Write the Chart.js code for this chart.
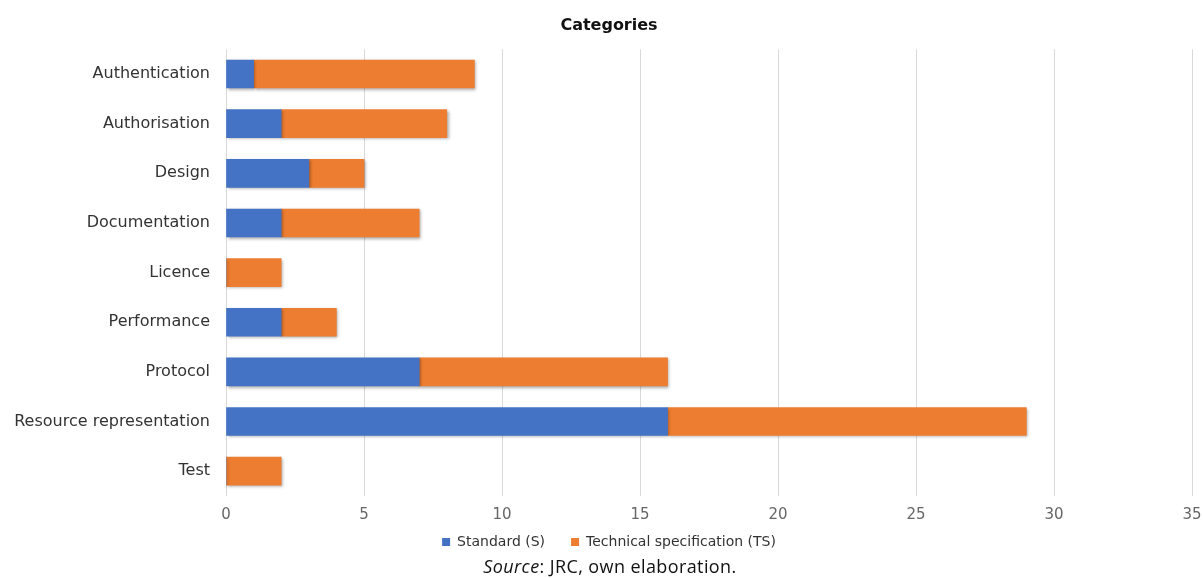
<!DOCTYPE html>
<html>
<head>
<meta charset="utf-8">
<script src="https://cdn.jsdelivr.net/npm/chart.js@4/dist/chart.umd.min.js"></script>
<style>
  html, body { margin: 0; padding: 0; background: #fff; }
  #wrap { position: relative; width: 1203px; height: 578px; }
  #source { position: absolute; left: 0; width: 1220px; top: 555px; text-align: center;
            font-family: "Open Sans", sans-serif; font-size: 18px; letter-spacing: 0.4px;
            color: #111; line-height: 22px; }
</style>
</head>
<body>
<div id="wrap">
  <canvas id="c" width="1203" height="578"></canvas>
  <div id="source"><i>Source</i>: JRC, own elaboration.</div>
</div>
<script>
const categories = ["Authentication", "Authorisation", "Design", "Documentation", "Licence",
                    "Performance", "Protocol", "Resource representation", "Test"];
const standardValues = [1, 2, 3, 2, 0, 2, 7, 16, 0];
const techSpecValues = [8, 6, 2, 5, 2, 2, 9, 13, 2];
const seriesNames = ["Standard (S)", "Technical specification (TS)"];
const xTicks = [0, 5, 10, 15, 20, 25, 30, 35];
const chartTitle = "Categories";

const LEGEND_PAD = 26;
const LEGEND_FONT = 14;

const shadowPlugin = {
  id: 'barShadow',
  beforeDatasetDraw(chart) {
    const ctx = chart.ctx;
    ctx.save();
    ctx.shadowColor = 'rgba(0,0,0,0.35)';
    ctx.shadowBlur = 3;
    ctx.shadowOffsetX = 1.5;
    ctx.shadowOffsetY = 1.5;
  },
  afterDatasetDraw(chart) { chart.ctx.restore(); }
};

const layoutPlugin = {
  id: 'shiftBoxes',
  beforeLayout(chart) {
    const lg = chart.legend;
    if (lg && !lg._fixedFit) {
      const orig = lg.fit.bind(lg);
      lg.fit = function () { orig(); this.height = 36; };
      lg._fixedFit = true;
    }
  },
  afterLayout(chart) {
    const lg = chart.legend;
    if (lg) {
      lg.left += 13; lg.right += 13;
      const top = 542 - LEGEND_PAD - LEGEND_FONT / 2;
      lg.top = top; lg.bottom = top + 60; lg.height = 60;
    }
    const t = chart.titleBlock;
    if (t) { t.left += 13; t.right += 13; }
  }
};

new Chart(document.getElementById('c'), {
  type: 'bar',
  data: {
    labels: categories,
    datasets: [
      { label: seriesNames[0], data: standardValues, backgroundColor: '#4472C4', barThickness: 28 },
      { label: seriesNames[1], data: techSpecValues, backgroundColor: '#ED7D31', barThickness: 28 }
    ]
  },
  options: {
    indexAxis: 'y',
    responsive: false,
    animation: false,
    layout: { autoPadding: false, padding: { left: 0, right: 11, top: 0, bottom: 8 } },
    plugins: {
      title: {
        display: true, text: chartTitle, color: '#111',
        font: { family: 'DejaVu Sans', size: 16, weight: 'bold' },
        padding: { top: 16, bottom: 14 }
      },
      legend: {
        position: 'bottom',
        labels: {
          boxWidth: 8, boxHeight: 8, padding: LEGEND_PAD, color: '#333',
          font: { family: 'DejaVu Sans', size: LEGEND_FONT }
        }
      },
      tooltip: { enabled: false }
    },
    scales: {
      x: {
        stacked: true, min: 0, max: 35,
        afterBuildTicks(axis) { axis.ticks = xTicks.map(v => ({ value: v })); },
        afterFit(axis) { axis.paddingLeft = 0; axis.paddingRight = 0; },
        grid: { color: '#d9d9d9', drawTicks: false },
        border: { display: false },
        ticks: { color: '#666', padding: 10, font: { family: 'DejaVu Sans', size: 15 } }
      },
      y: {
        stacked: true,
        afterFit(axis) { axis.width = 226; },
        grid: { display: false, drawTicks: false },
        border: { display: false },
        ticks: { color: '#333', padding: 16, font: { family: 'DejaVu Sans', size: 16 } }
      }
    }
  },
  plugins: [shadowPlugin, layoutPlugin]
});
</script>
</body>
</html>
